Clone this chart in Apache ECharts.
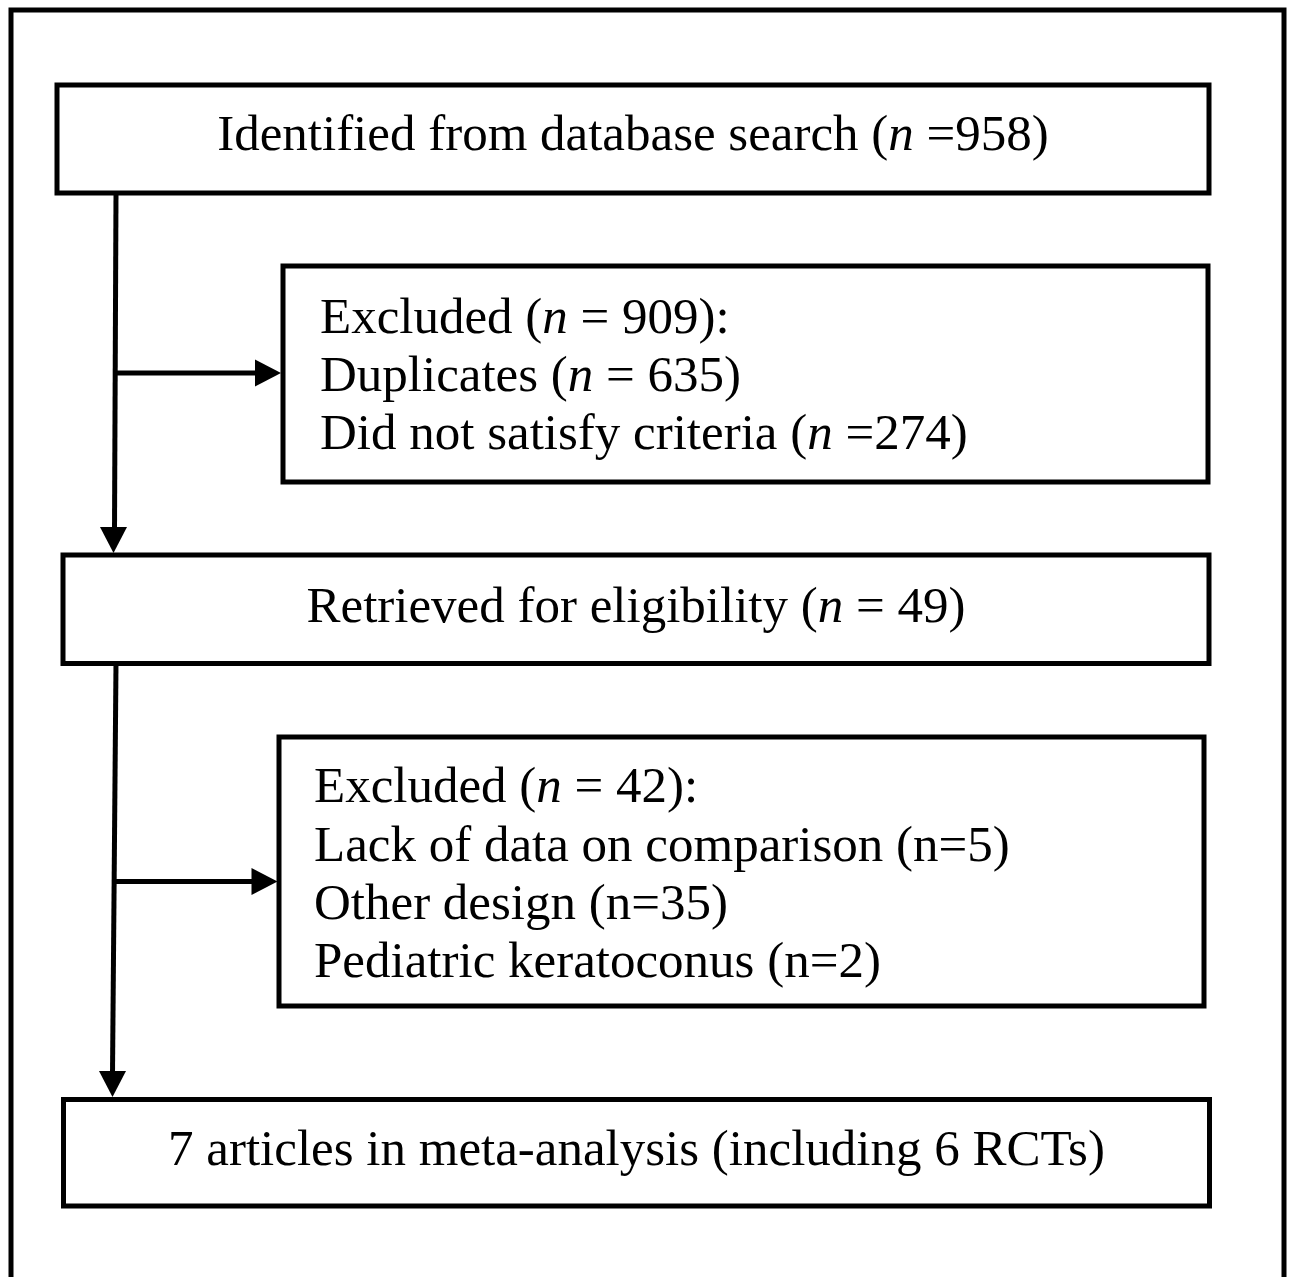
<!DOCTYPE html>
<html><head><meta charset="utf-8">
<script src="https://cdn.jsdelivr.net/npm/echarts@6/dist/echarts.min.js"></script>
<style>html,body{margin:0;padding:0;background:#fff}#c{width:1289px;height:1277px}</style>
</head><body><div id="c"></div>
<script>
// ---------- DATA ----------
const stageNames = ['Identified from database search', 'Excluded', 'Retrieved for eligibility', 'Excluded', 'articles in meta-analysis'];
const stageCounts = [958, 909, 49, 42, 7];
const rctCount = 6;
const firstReasons = ['Duplicates', 'Did not satisfy criteria'];
const firstReasonCounts = [635, 274];
const secondReasons = ['Lack of data on comparison', 'Other design', 'Pediatric keratoconus'];
const secondReasonCounts = [5, 35, 2];

// text lines of each box (built from the data above)
const boxLines = [
  [stageNames[0] + ' ({i|n} =' + stageCounts[0] + ')'],
  [stageNames[1] + ' ({i|n} = ' + stageCounts[1] + '):',
   firstReasons[0] + ' ({i|n} = ' + firstReasonCounts[0] + ')',
   firstReasons[1] + ' ({i|n} =' + firstReasonCounts[1] + ')'],
  [stageNames[2] + ' ({i|n} = ' + stageCounts[2] + ')'],
  [stageNames[3] + ' ({i|n} = ' + stageCounts[3] + '):'].concat(
    secondReasons.map((r, k) => r + ' (n=' + secondReasonCounts[k] + ')')),
  [stageCounts[4] + ' ' + stageNames[4] + ' (including ' + rctCount + ' RCTs)']
];

// ---------- LAYOUT (page units, mapped through hidden axes) ----------
const boxRects = [
  [57, 85, 1209, 193],
  [283, 266, 1208, 482],
  [63, 555, 1209, 663.5],
  [279, 737, 1204, 1006],
  [63.5, 1099.5, 1209.5, 1206]
];
const boxAlign = ['center', 'left', 'center', 'left', 'center'];
const boxTextX = [null, 320, null, 314, null];
const lineBaselines = [[150], [333, 391, 449], [621.7], [802, 860.5, 918.5, 977], [1165]];
const trunks = [[[116, 193], [114.5, 529]], [[116, 663], [112.5, 1073]]];
const branches = [[[115, 373], [258, 373]], [[114, 881.5], [258, 881.5]]];
const downHeads = [[113.5, 553], [112.5, 1097]];
const rightHeads = [[281, 373], [277.5, 881.5]];
const frame = [[11, 1300], [11, 10], [1284, 10], [1284, 1300]];

const FS = 51;
const FF = '"Liberation Serif", "Times New Roman", serif';
const LW = 5;
const MID = 0.255; // baseline-to-middle offset (em)

function renderBox(params, api) {
  const i = params.dataIndex;
  const p0 = api.coord([api.value(0), api.value(1)]);
  const p1 = api.coord([api.value(2), api.value(3)]);
  const children = [{
    type: 'rect',
    shape: { x: p0[0], y: p0[1], width: p1[0] - p0[0], height: p1[1] - p0[1] },
    style: { fill: '#fff', stroke: '#000', lineWidth: LW }
  }];
  boxLines[i].forEach((t, k) => {
    const align = boxAlign[i];
    const tx = align === 'center' ? (api.value(0) + api.value(2)) / 2 : boxTextX[i];
    const pt = api.coord([tx, lineBaselines[i][k] - MID * FS]);
    children.push({
      type: 'text',
      style: {
        text: t, x: pt[0], y: pt[1], align: align, verticalAlign: 'middle',
        fill: '#000', fontFamily: FF, fontSize: FS,
        rich: { i: { fontStyle: 'italic', fontFamily: FF, fontSize: FS, fill: '#000' } }
      }
    });
  });
  return { type: 'group', children: children };
}

function renderLine(params, api) {
  const a = api.coord([api.value(0), api.value(1)]);
  const b = api.coord([api.value(2), api.value(3)]);
  return { type: 'line', shape: { x1: a[0], y1: a[1], x2: b[0], y2: b[1] },
           style: { stroke: '#000', lineWidth: LW } };
}

function renderHead(dir) {
  return function (params, api) {
    const t = api.coord([api.value(0), api.value(1)]);
    let pts;
    if (dir === 'down') pts = [[t[0], t[1]], [t[0] - 13.5, t[1] - 26], [t[0] + 13.5, t[1] - 26]];
    else pts = [[t[0], t[1]], [t[0] - 26, t[1] - 13.5], [t[0] - 26, t[1] + 13.5]];
    return { type: 'polygon', shape: { points: pts }, style: { fill: '#000' } };
  };
}

function renderFrame(params, api) {
  const pts = frame.map(p => api.coord(p));
  return { type: 'polyline', shape: { points: pts }, style: { stroke: '#000', lineWidth: LW, fill: null } };
}

const chart = echarts.init(document.getElementById('c'), null, { renderer: 'canvas' });
chart.setOption({
  animation: false,
  backgroundColor: '#fff',
  grid: { left: 0, right: 0, top: 0, bottom: 0 },
  xAxis: { type: 'value', min: 0, max: 1289, show: false },
  yAxis: { type: 'value', min: 0, max: 1277, inverse: true, show: false },
  series: [
    { type: 'custom', renderItem: renderFrame, data: [[0, 0]], encode: { x: 0, y: 1 }, silent: true, clip: false },
    { type: 'custom', renderItem: renderLine, silent: true, clip: false,
      data: trunks.concat(branches).map(s => [s[0][0], s[0][1], s[1][0], s[1][1]]),
      encode: { x: [0, 2], y: [1, 3] } },
    { type: 'custom', renderItem: renderBox, silent: true, clip: false,
      data: boxRects, encode: { x: [0, 2], y: [1, 3] } },
    { type: 'custom', renderItem: renderHead('down'), silent: true, clip: false,
      data: downHeads, encode: { x: 0, y: 1 } },
    { type: 'custom', renderItem: renderHead('right'), silent: true, clip: false,
      data: rightHeads, encode: { x: 0, y: 1 } }
  ]
});
</script>
</body></html>
